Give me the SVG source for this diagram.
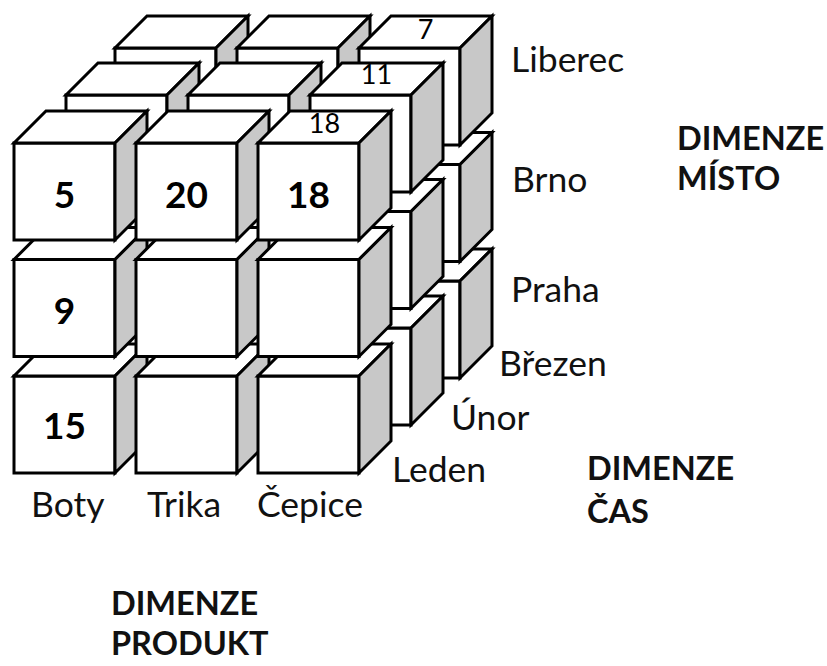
<svg xmlns="http://www.w3.org/2000/svg" xmlns:xlink="http://www.w3.org/1999/xlink" width="827" height="666" viewBox="0 0 827 666">
  <style>
    .face { fill: #ffffff; stroke: #000000; stroke-width: 3; stroke-linejoin: miter; }
    .side { fill: #c8c8c8; stroke: #000000; stroke-width: 3; stroke-linejoin: miter; }
    .val { font-family: Lato, "Liberation Sans", sans-serif; font-weight: 700; font-size: 37px; fill: #000; text-anchor: middle; }
    .topval { font-family: Lato, "Liberation Sans", sans-serif; font-size: 27px; fill: #000; text-anchor: middle; }
    .lbl { font-family: Lato, "Liberation Sans", sans-serif; font-size: 35.5px; fill: #111; }
    .dim { font-family: Lato, "Liberation Sans", sans-serif; font-weight: 700; font-size: 32.5px; fill: #111; }
  </style>
  <defs>
    <!-- one cell of the cube: front face 101x97, depth 32 up and to the right -->
    <g id="cell">
      <rect class="face" x="0" y="0" width="101" height="97"/>
      <polygon class="face" points="0,0 101,0 133,-32 32,-32"/>
      <polygon class="side" points="101,0 133,-32 133,65 101,97"/>
    </g>
  </defs>
  <rect width="827" height="666" fill="#ffffff"/>

  <!-- back layer (Březen) -->
  <g id="layer-brezen">
    <g id="cube-brezen-praha-boty" transform="translate(115,281)"><use xlink:href="#cell"/></g>
    <g id="cube-brezen-praha-trika" transform="translate(237,281)"><use xlink:href="#cell"/></g>
    <g id="cube-brezen-praha-cepice" transform="translate(359,281)"><use xlink:href="#cell"/></g>
    <g id="cube-brezen-brno-boty" transform="translate(115,164.5)"><use xlink:href="#cell"/></g>
    <g id="cube-brezen-brno-trika" transform="translate(237,164.5)"><use xlink:href="#cell"/></g>
    <g id="cube-brezen-brno-cepice" transform="translate(359,164.5)"><use xlink:href="#cell"/></g>
    <g id="cube-brezen-liberec-boty" transform="translate(115,48)"><use xlink:href="#cell"/></g>
    <g id="cube-brezen-liberec-trika" transform="translate(237,48)"><use xlink:href="#cell"/></g>
    <g id="cube-brezen-liberec-cepice" transform="translate(359,48)"><use xlink:href="#cell"/>
      <text class="topval" x="66.5" y="-9">7</text></g>
  </g>

  <!-- middle layer (Únor) -->
  <g id="layer-unor">
    <g id="cube-unor-praha-boty" transform="translate(66,328)"><use xlink:href="#cell"/></g>
    <g id="cube-unor-praha-trika" transform="translate(188,328)"><use xlink:href="#cell"/></g>
    <g id="cube-unor-praha-cepice" transform="translate(310,328)"><use xlink:href="#cell"/></g>
    <g id="cube-unor-brno-boty" transform="translate(66,211.5)"><use xlink:href="#cell"/></g>
    <g id="cube-unor-brno-trika" transform="translate(188,211.5)"><use xlink:href="#cell"/></g>
    <g id="cube-unor-brno-cepice" transform="translate(310,211.5)"><use xlink:href="#cell"/></g>
    <g id="cube-unor-liberec-boty" transform="translate(66,95)"><use xlink:href="#cell"/></g>
    <g id="cube-unor-liberec-trika" transform="translate(188,95)"><use xlink:href="#cell"/></g>
    <g id="cube-unor-liberec-cepice" transform="translate(310,95)"><use xlink:href="#cell"/>
      <text class="topval" x="66.5" y="-11">11</text></g>
  </g>

  <!-- front layer (Leden) -->
  <g id="layer-leden">
    <g id="cube-leden-praha-boty" transform="translate(14,376)"><use xlink:href="#cell"/>
      <text class="val" x="50.5" y="63">15</text></g>
    <g id="cube-leden-praha-trika" transform="translate(136,376)"><use xlink:href="#cell"/></g>
    <g id="cube-leden-praha-cepice" transform="translate(258,376)"><use xlink:href="#cell"/></g>
    <g id="cube-leden-brno-boty" transform="translate(14,259.5)"><use xlink:href="#cell"/>
      <text class="val" x="50.5" y="64">9</text></g>
    <g id="cube-leden-brno-trika" transform="translate(136,259.5)"><use xlink:href="#cell"/></g>
    <g id="cube-leden-brno-cepice" transform="translate(258,259.5)"><use xlink:href="#cell"/></g>
    <g id="cube-leden-liberec-boty" transform="translate(14,143)"><use xlink:href="#cell"/>
      <text class="val" x="50.5" y="65">5</text></g>
    <g id="cube-leden-liberec-trika" transform="translate(136,143)"><use xlink:href="#cell"/>
      <text class="val" x="50.5" y="65">20</text></g>
    <g id="cube-leden-liberec-cepice" transform="translate(258,143)"><use xlink:href="#cell"/>
      <text class="val" x="50.5" y="65">18</text>
      <text class="topval" x="66.5" y="-10">18</text></g>
  </g>

  <!-- no connectors in this drawing -->
  <g id="connectors"/>

  <!-- axis member labels -->
  <g id="labels-misto">
    <text class="lbl" x="511" y="72">Liberec</text>
    <text class="lbl" x="512" y="192">Brno</text>
    <text class="lbl" x="511" y="302">Praha</text>
  </g>
  <g id="labels-cas">
    <text class="lbl" x="499" y="376">Březen</text>
    <text class="lbl" x="451" y="430">Únor</text>
    <text class="lbl" x="392" y="482">Leden</text>
  </g>
  <g id="labels-produkt">
    <text class="lbl" x="31" y="517">Boty</text>
    <text class="lbl" x="147" y="517">Trika</text>
    <text class="lbl" x="257" y="517">Čepice</text>
  </g>

  <!-- dimension titles -->
  <g id="title-misto">
    <text class="dim" x="677" y="150">DIMENZE</text>
    <text class="dim" x="677" y="190">MÍSTO</text>
  </g>
  <g id="title-cas">
    <text class="dim" x="587" y="480">DIMENZE</text>
    <text class="dim" x="587" y="523">ČAS</text>
  </g>
  <g id="title-produkt">
    <text class="dim" x="111" y="615">DIMENZE</text>
    <text class="dim" x="111" y="655">PRODUKT</text>
  </g>
</svg>
